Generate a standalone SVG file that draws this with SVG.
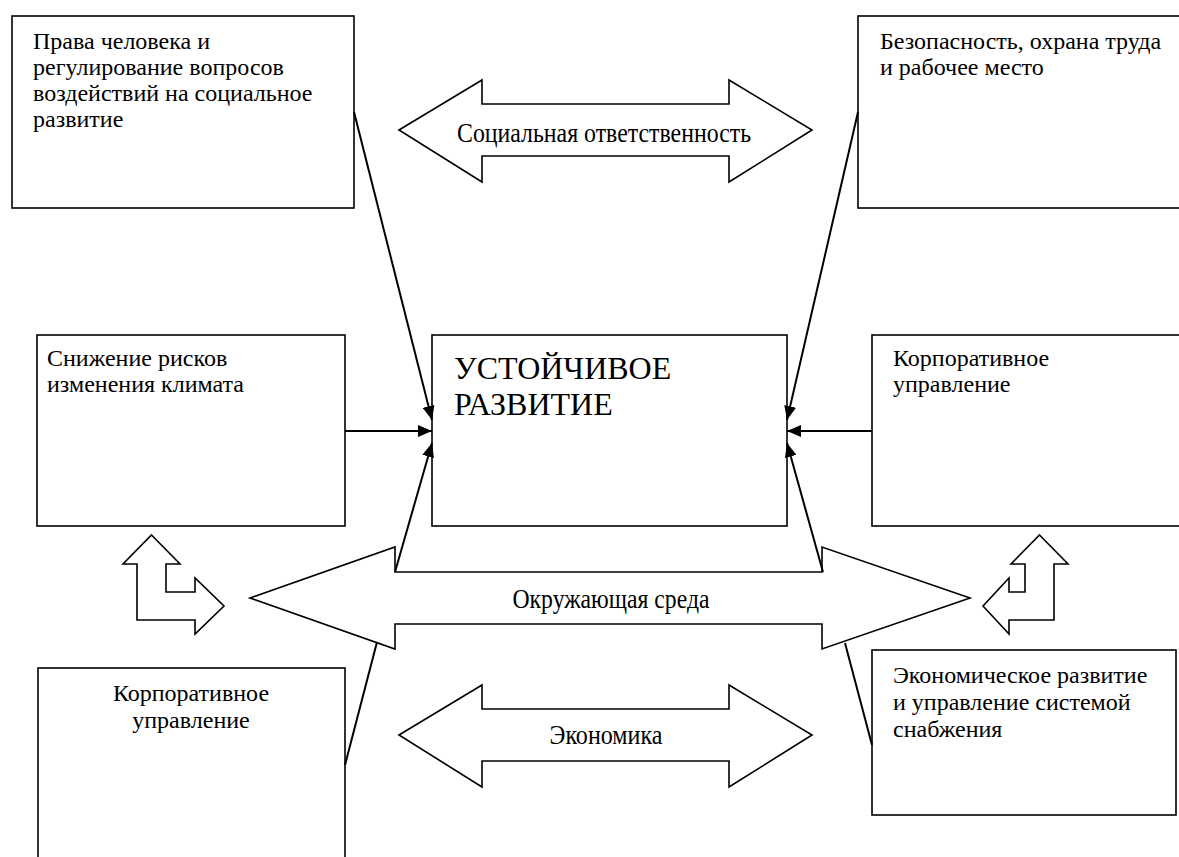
<svg xmlns="http://www.w3.org/2000/svg" width="1179" height="857" viewBox="0 0 1179 857">
<style>
.box{fill:#fff;stroke:#000;stroke-width:1.6}
.shape{fill:#fff;stroke:#000;stroke-width:1.6;stroke-linejoin:miter}
.t{font-family:"Liberation Serif","Times New Roman",serif;font-size:24px;fill:#000}
.big{font-family:"Liberation Serif","Times New Roman",serif;font-size:32px;fill:#000}
.lbl{font-family:"Liberation Serif","Times New Roman",serif;font-size:28px;fill:#000}
.con{fill:none;stroke:#000;stroke-width:2}
</style>
<defs>
<marker id="ah" markerUnits="userSpaceOnUse" markerWidth="14" markerHeight="12" refX="14" refY="6" orient="auto">
<path d="M0,0 L14,6 L0,12 z" fill="#000"/>
</marker>
</defs>
<rect width="1179" height="857" fill="#fff"/>

<g id="node-rights">
<rect class="box" x="12" y="16" width="342" height="192"/>
<text class="t" x="33" y="49">Права человека и</text>
<text class="t" x="33" y="75">регулирование вопросов</text>
<text class="t" x="33" y="101">воздействий на социальное</text>
<text class="t" x="33" y="127">развитие</text>
</g>

<g id="node-safety">
<rect class="box" x="858" y="16" width="340" height="192"/>
<text class="t" x="880" y="49">Безопасность, охрана труда</text>
<text class="t" x="880" y="75">и рабочее место</text>
</g>

<g id="node-social">
<polygon class="shape" points="399,130 482,80 482,104 729,104 729,80 812,130 729,182 729,156 482,156 482,182"/>
<text class="lbl" x="604" y="142" text-anchor="middle" textLength="294" lengthAdjust="spacingAndGlyphs">Социальная ответственность</text>
</g>

<g id="node-climate">
<rect class="box" x="37" y="335" width="308" height="191"/>
<text class="t" x="47" y="366">Снижение рисков</text>
<text class="t" x="47" y="392">изменения климата</text>
</g>

<g id="node-center">
<rect class="box" x="432" y="335" width="355" height="191"/>
<text class="big" x="454" y="379">УСТОЙЧИВОЕ</text>
<text class="big" x="454" y="415">РАЗВИТИЕ</text>
</g>

<g id="node-corp-right">
<rect class="box" x="872" y="335" width="330" height="191"/>
<text class="t" x="893" y="366">Корпоративное</text>
<text class="t" x="893" y="392">управление</text>
</g>

<g id="node-env">
<polygon class="shape" points="250,598 395,547 395,572 822,572 822,547 970,598 822,649 822,624 395,624 395,649"/>
<text class="lbl" x="611" y="608" text-anchor="middle" textLength="197" lengthAdjust="spacingAndGlyphs">Окружающая среда</text>
</g>

<g id="node-bent-left">
<polygon class="shape" points="151.5,535 180,564 166,564 166,592 195,592 195,578 224,606 195,634 195,620 137,620 137,564 123,564"/>
</g>

<g id="node-bent-right">
<polygon class="shape" points="1039.5,535 1068,564 1054,564 1054,620 1009,620 1009,634 983,606 1009,578 1009,592 1025,592 1025,564 1011,564"/>
</g>

<g id="node-corp-left">
<rect class="box" x="38" y="668" width="307" height="210"/>
<text class="t" x="191" y="701" text-anchor="middle">Корпоративное</text>
<text class="t" x="191" y="728" text-anchor="middle">управление</text>
</g>

<g id="node-econ-dev">
<rect class="box" x="872" y="650" width="304" height="165"/>
<text class="t" x="893" y="683">Экономическое развитие</text>
<text class="t" x="893" y="710">и управление системой</text>
<text class="t" x="893" y="737">снабжения</text>
</g>

<g id="node-economy">
<polygon class="shape" points="399,735 482,685 482,709 729,709 729,685 812,735 729,787 729,761 482,761 482,787"/>
<text class="lbl" x="606" y="744" text-anchor="middle" textLength="113" lengthAdjust="spacingAndGlyphs">Экономика</text>
</g>

<g id="connectors">
<line class="con" x1="354" y1="112" x2="432" y2="420" marker-end="url(#ah)"/>
<line class="con" x1="858" y1="112" x2="787" y2="420" marker-end="url(#ah)"/>
<line class="con" x1="345" y1="431" x2="432" y2="431" marker-end="url(#ah)"/>
<line class="con" x1="872" y1="431" x2="787" y2="431" marker-end="url(#ah)"/>
<line class="con" x1="395" y1="572" x2="432" y2="443" marker-end="url(#ah)"/>
<line class="con" x1="823" y1="572" x2="787" y2="443" marker-end="url(#ah)"/>
<line class="con" x1="345" y1="765" x2="377" y2="642"/>
<line class="con" x1="872" y1="745" x2="845" y2="643"/>
</g>
</svg>
